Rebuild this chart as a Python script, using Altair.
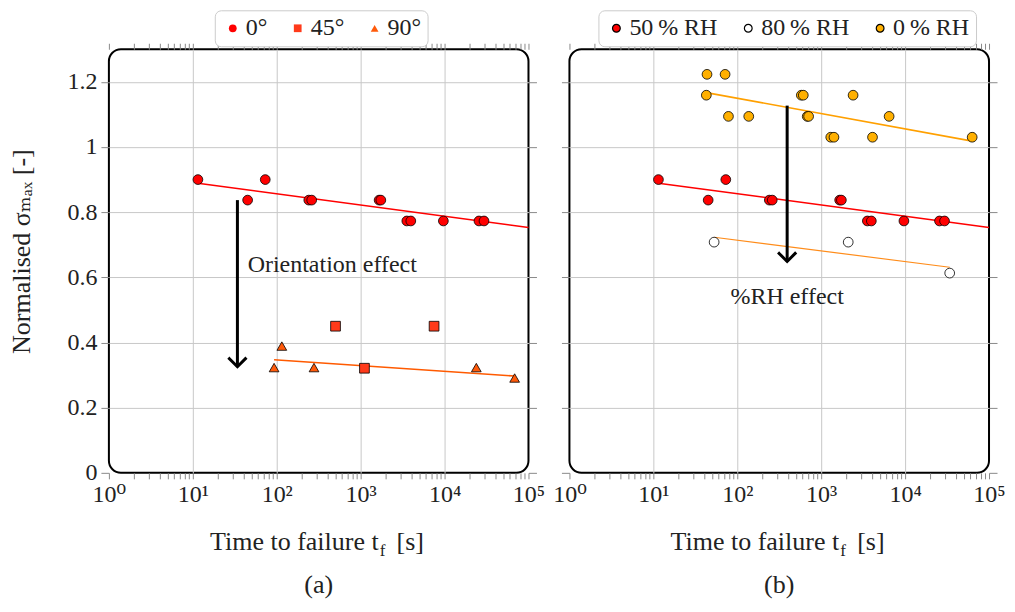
import altair as alt
import pandas as pd

FONT = "'Liberation Serif', 'DejaVu Serif', serif"
TXT = "#222222"
GRID = "#c8c8c8"
TICK = "#8a8a8a"

# ---------------- Panel (a): orientation ----------------
a0_t = [11.5, 45, 73, 241, 261, 1660, 1740, 3550, 3960, 9680, 25700, 29500]
a0_s = [0.90, 0.837, 0.90, 0.837, 0.837, 0.837, 0.837, 0.773, 0.773, 0.773, 0.773, 0.773]
a45_t = [502, 1110, 7500]
a45_s = [0.45, 0.321, 0.45]
a90_t = [93, 115, 278, 23900, 68400]
a90_s = [0.323, 0.389, 0.323, 0.323, 0.291]
fit_a0_t = [11.5, 100000]
fit_a0_s = [0.889, 0.753]
fit_a4590_t = [93, 68400]
fit_a4590_s = [0.347, 0.297]
a_series = ["0°", "45°", "90°"]
a_colors = ["#ff0000", "#ff3a1a", "#ff5a0a"]
a_shapes = ["circle", "square", "triangle-up"]

# ---------------- Panel (b): relative humidity ----------------
b50_t = a0_t
b50_s = a0_s
b80_t = [53, 2100, 34000]
b80_s = [0.708, 0.708, 0.613]
b0_t = [43.6, 71.6, 42.8, 580, 612, 2400, 78.5, 137, 682, 708, 6450, 1300, 1420, 4090, 63000]
b0_s = [1.223, 1.223, 1.159, 1.159, 1.159, 1.159, 1.094, 1.094, 1.094, 1.094, 1.094,
        1.030, 1.030, 1.030, 1.030]
fit_b0_t = [42.8, 63000]
fit_b0_s = [1.167, 1.018]
fit_b80_t = [53, 34000]
fit_b80_s = [0.723, 0.631]
b_series = ["50\u2009% RH", "80\u2009% RH", "0\u2009% RH"]
b_colors = ["#ff0000", "#ffffff", "#ffb000"]

# annotations (arrow start/end, label positions)
arrow_a = {"t": 34, "s_top": 0.837, "s_tip": 0.325}
note_a = {"t": 45, "s": 0.638, "label": "Orientation effect", "align": "left"}
arrow_b = {"t": 393, "s_top": 1.127, "s_tip": 0.648}
note_b = {"t": 393, "s": 0.541, "label": "%RH effect", "align": "center"}

majors = [1, 10, 100, 1000, 10000, 100000]
major_labels = ["10⁰", "10¹", "10²", "10³", "10⁴", "10⁵"]
minors = [m * 10 ** k for k in range(5) for m in range(2, 10)]
x_ticks = majors + minors
y_ticks = [0, 0.2, 0.4, 0.6, 0.8, 1, 1.2]

W, H = 420, 424

label_expr = " : ".join(
    f"datum.value == {v} ? '{l}'" for v, l in zip(majors, major_labels)) + " : ''"
grid_x_test = "indexof([10, 100, 1000, 10000], datum.value) >= 0"

xs = alt.Scale(type="log", domain=[1, 100000], nice=False)
ys = alt.Scale(domain=[0, 1.3], nice=False, zero=False)


def x_bottom():
    return alt.Axis(orient="bottom", values=x_ticks, labelExpr=label_expr, domain=False,
                    grid=True, gridColor=GRID, gridWidth=1,
                    gridOpacity={"condition": {"test": grid_x_test, "value": 1}, "value": 0},
                    tickSize=6, tickColor=TICK, labelFont=FONT, labelFontSize=24,
                    labelColor=TXT, labelPadding=4, labelOverlap=False, labelFlush=False,
                    labelBound=False, title=None)


def x_top():
    return alt.Axis(orient="top", values=x_ticks, labels=False, domain=False, grid=False,
                    tickSize=6, tickColor=TICK, title=None)


def y_left(with_labels):
    kw = dict(orient="left", values=y_ticks, domain=False, grid=True, gridColor=GRID,
              gridWidth=1,
              gridOpacity={"condition": {"test": "datum.value > 0", "value": 1}, "value": 0},
              tickSize=8, tickColor=TICK)
    if with_labels:
        kw.update(format="~g", labelFont=FONT, labelFontSize=24, labelColor=TXT,
                  labelPadding=4, title="Normalised σₘₐₓ [-]", titleFont=FONT,
                  titleFontSize=26, titleFontWeight="normal", titleColor=TXT,
                  titlePadding=32, titleY=202)
    else:
        kw.update(labels=False, title=None)
    return alt.Axis(**kw)


def y_right():
    return alt.Axis(orient="right", values=y_ticks, labels=False, domain=False, grid=False,
                    tickSize=8, tickColor=TICK, title=None)


def legend(lx):
    return alt.Legend(title=None, orient="none", legendX=lx, legendY=-39,
                      direction="horizontal", fillColor="white", strokeColor="#cccccc",
                      cornerRadius=6, padding=6, labelFont=FONT, labelFontSize=24,
                      labelColor=TXT, symbolSize=60, symbolStrokeColor="black",
                      symbolStrokeWidth=1.2, symbolOpacity=1, columnPadding=18,
                      labelOffset=1)


def text_layer(x, y, text, size=26, align="center", baseline="alphabetic"):
    return alt.Chart(pd.DataFrame({"k": [0]})).mark_text(
        font=FONT, fontSize=size, color=TXT, align=align, baseline=baseline
    ).encode(x=alt.value(x), y=alt.value(y), text=alt.value(text))


def panel(pts_df, domain, colors, shapes, fits, arrow, note, caption, lx, ylabels):
    enc = dict(
        x=alt.X("t:Q", scale=xs, axis=x_bottom()),
        y=alt.Y("s:Q", scale=ys, axis=y_left(ylabels)),
        color=alt.Color("series:N", scale=alt.Scale(domain=domain, range=colors),
                        legend=legend(lx)),
    )
    if shapes is not None:
        enc["shape"] = alt.Shape("series:N", scale=alt.Scale(domain=domain, range=shapes),
                                 legend=legend(lx))
    layers = []
    for i, (ft, fs, fc, fw) in enumerate(fits):
        df = pd.DataFrame({"t": ft, "s": fs})
        if i == 0:
            xe = alt.X("t:Q", scale=xs, axis=x_top())
            ye = alt.Y("s:Q", scale=ys, axis=y_right())
        else:
            xe = alt.X("t:Q", scale=xs, axis=None)
            ye = alt.Y("s:Q", scale=ys, axis=None)
        layers.append(alt.Chart(df).mark_line(color=fc, strokeWidth=fw).encode(x=xe, y=ye))

    adf = pd.DataFrame({"t": [arrow["t"]], "s": [arrow["s_top"]], "s2": [arrow["s_tip"]]})
    layers.append(alt.Chart(adf).mark_rule(color="black", strokeWidth=3).encode(
        x=alt.X("t:Q", scale=xs, axis=None), y=alt.Y("s:Q", scale=ys, axis=None), y2="s2:Q"))
    hdf = pd.DataFrame({"t": [arrow["t"]], "s": [arrow["s_tip"] + 0.013]})
    layers.append(alt.Chart(hdf).mark_point(
        shape="M-1,-0.5L0,0.5L1,-0.5", size=256, filled=False, stroke="black",
        strokeWidth=3, opacity=1, strokeCap="square", strokeJoin="miter").encode(
        x=alt.X("t:Q", scale=xs, axis=None), y=alt.Y("s:Q", scale=ys, axis=None)))

    layers.append(alt.Chart(pts_df).mark_point(
        filled=True, size=95, stroke="black", strokeWidth=0.8, opacity=1).encode(**enc))

    ndf = pd.DataFrame({"t": [note["t"]], "s": [note["s"]], "label": [note["label"]]})
    layers.append(alt.Chart(ndf).mark_text(
        font=FONT, fontSize=24, color=TXT, align=note["align"], baseline="middle").encode(
        x=alt.X("t:Q", scale=xs, axis=None), y=alt.Y("s:Q", scale=ys, axis=None),
        text="label:N"))

    # x-axis title with subscript, and panel caption
    layers.append(text_layer(270, H + 77, "Time to failure t", align="right"))
    layers.append(text_layer(271, H + 83, "f", size=17, align="left"))
    layers.append(text_layer(288, H + 77, "[s]", align="left"))
    layers.append(text_layer(W / 2, H + 112, caption, baseline="middle"))

    return alt.layer(*layers).resolve_axis(x="independent", y="independent").properties(
        width=W, height=H)


def series_df(groups):
    rows = []
    for name, ts, ss in groups:
        for t, s in zip(ts, ss):
            rows.append({"series": name, "t": t, "s": s})
    return pd.DataFrame(rows)


pts_a = series_df([(a_series[0], a0_t, a0_s), (a_series[1], a45_t, a45_s),
                   (a_series[2], a90_t, a90_s)])
pts_b = series_df([(b_series[0], b50_t, b50_s), (b_series[1], b80_t, b80_s),
                   (b_series[2], b0_t, b0_s)])

left = panel(pts_a, a_series, a_colors, a_shapes,
             [(fit_a0_t, fit_a0_s, "#ff0000", 1.5), (fit_a4590_t, fit_a4590_s, "#ff5a00", 1.6)],
             arrow_a, note_a, "(a)", 106, True)
right = panel(pts_b, b_series, b_colors, None,
              [(fit_a0_t, fit_a0_s, "#ff0000", 1.5), (fit_b0_t, fit_b0_s, "#ffa000", 1.6),
               (fit_b80_t, fit_b80_s, "#ff8c1a", 1.2)],
              arrow_b, note_b, "(b)", 29, False)

chart = alt.hconcat(left, right, spacing=5, padding=0).resolve_scale(
    color="independent", shape="independent"
).configure(font=FONT).configure_view(
    stroke="black", strokeWidth=2, cornerRadius=12)

chart.save("out.html", embed_options={"renderer": "svg", "actions": False})
